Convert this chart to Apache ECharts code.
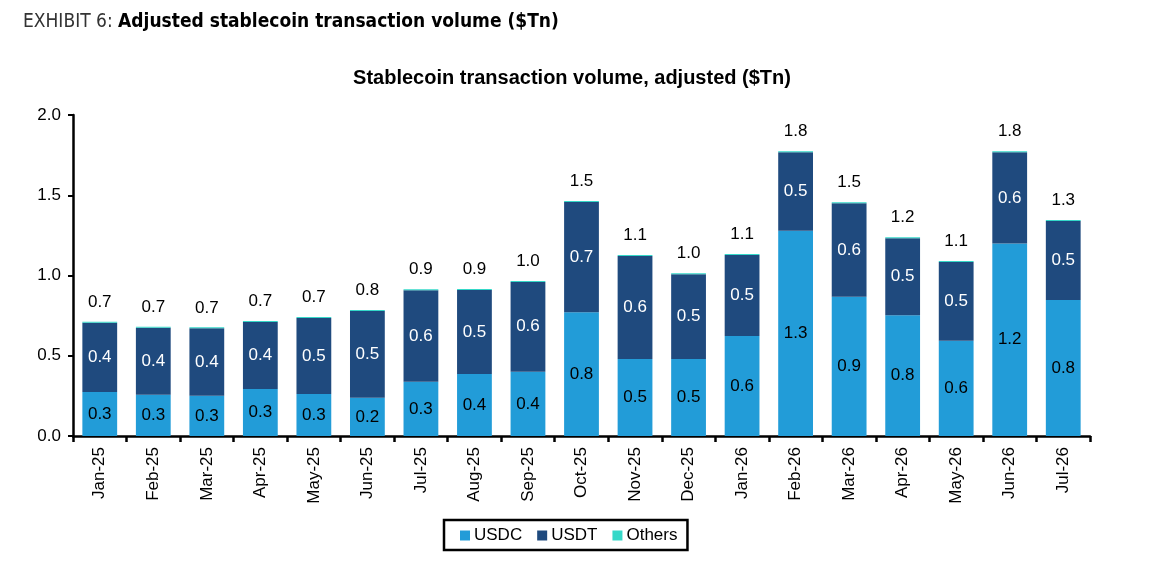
<!DOCTYPE html>
<html><head><meta charset="utf-8">
<script src="https://cdn.jsdelivr.net/npm/echarts@6/dist/echarts.min.js"></script>
<style>html,body{margin:0;padding:0;background:#fff}#c{width:1158px;height:574px}</style>
</head><body><div id="c"></div>
<script>
const categories = ['Jan-25','Feb-25','Mar-25','Apr-25','May-25','Jun-25','Jul-25','Aug-25','Sep-25','Oct-25','Nov-25','Dec-25','Jan-26','Feb-26','Mar-26','Apr-26','May-26','Jun-26','Jul-26'];
const usdc   = [0.274,0.257,0.251,0.293,0.262,0.239,0.338,0.386,0.401,0.771,0.480,0.480,0.623,1.279,0.868,0.752,0.594,1.200,0.847];
const usdt   = [0.432,0.418,0.420,0.417,0.473,0.540,0.570,0.524,0.559,0.687,0.642,0.528,0.505,0.489,0.582,0.480,0.490,0.568,0.493];
const others = [0.006,0.006,0.006,0.006,0.006,0.006,0.006,0.006,0.006,0.006,0.006,0.006,0.006,0.006,0.006,0.006,0.006,0.006,0.006];
const yTicks = [0,0.5,1.0,1.5,2.0];

const totals = categories.map((_, i) => usdc[i] + usdt[i] + others[i]);
const font = "'Liberation Sans', Arial, sans-serif";
const chart = echarts.init(document.getElementById('c'));
chart.setOption({
  animation: false,
  title: [
    { text: '{l|EXHIBIT 6: }{b|Adjusted stablecoin transaction volume ($Tn)}', left: 18, top: 8,
      textStyle: { rich: {
        l: { fontFamily: 'DejaVu Sans Condensed', fontWeight: 'normal', fontSize: 19, color: '#333' },
        b: { fontFamily: 'DejaVu Sans Condensed', fontWeight: 'bold', fontSize: 19, color: '#000' } } } },
    { text: 'Stablecoin transaction volume, adjusted ($Tn)', left: 567, textAlign: 'center', top: 63,
      textStyle: { fontFamily: font, fontWeight: 'bold', fontSize: 20, color: '#000' } }
  ],
  legend: {
    data: ['USDC','USDT','Others'], left: 444, top: 520,
    itemWidth: 10, itemHeight: 10, itemGap: 15, icon: 'rect',
    borderColor: '#000', borderWidth: 2.5, padding: [7, 10, 6, 16],
    textStyle: { fontFamily: font, fontSize: 17, color: '#000', padding: [0,0,0,-1] }
  },
  grid: { left: 73, right: 68, top: 115, bottom: 138 },
  xAxis: {
    type: 'category', data: categories, boundaryGap: true,
    axisLine: { lineStyle: { color: '#000', width: 2.5 } },
    axisTick: { show: true, alignWithLabel: false, length: 6, lineStyle: { color: '#000', width: 2.5 } },
    axisLabel: { rotate: 90, fontFamily: font, fontSize: 17, color: '#000', margin: 11 }
  },
  yAxis: {
    type: 'value', min: yTicks[0], max: yTicks[yTicks.length-1], interval: 0.5,
    axisLine: { show: true, lineStyle: { color: '#000', width: 2.5 } },
    axisTick: { show: true, inside: false, length: 5, lineStyle: { color: '#000', width: 2 } },
    splitLine: { show: false },
    axisLabel: { fontFamily: font, fontSize: 17, color: '#000', margin: 12, formatter: v => v.toFixed(1) }
  },
  series: [
    { name: 'USDC', type: 'bar', stack: 's', data: usdc, barWidth: '65%',
      itemStyle: { color: '#229cd8' },
      label: { show: true, position: 'inside', fontFamily: font, fontSize: 17, color: '#000', formatter: p => p.value.toFixed(1) } },
    { name: 'USDT', type: 'bar', stack: 's', data: usdt,
      itemStyle: { color: '#1f4a7e' },
      label: { show: true, position: 'inside', fontFamily: font, fontSize: 17, color: '#fff', formatter: p => p.value.toFixed(1) } },
    { name: 'Others', type: 'bar', stack: 's', data: others,
      itemStyle: { color: '#35d8c8' },
      label: { show: true, position: 'top', distance: 11, fontFamily: font, fontSize: 17, color: '#000', formatter: p => totals[p.dataIndex].toFixed(1) } }
  ]
});
</script></body></html>
